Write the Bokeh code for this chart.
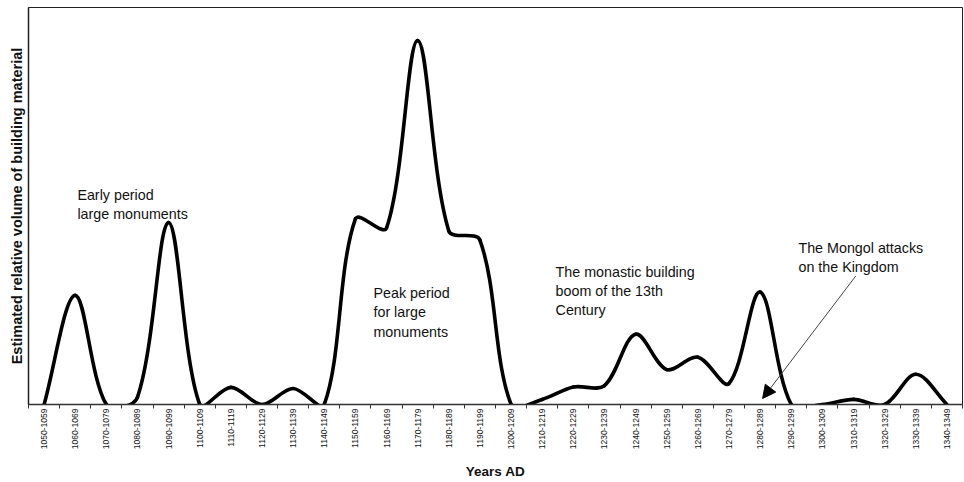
import math
from bokeh.plotting import figure
from bokeh.models import (Label, Arrow, NormalHead, FixedTicker,
                          CustomJSTickFormatter, Range1d, ColumnDataSource)
from bokeh.embed import file_html
from bokeh.resources import INLINE

# ---- data -------------------------------------------------------------
periods = ["1050-1059", "1060-1069", "1070-1079", "1080-1089", "1090-1099",
           "1100-1109", "1110-1119", "1120-1129", "1130-1139", "1140-1149",
           "1150-1159", "1160-1169", "1170-1179", "1180-1189", "1190-1199",
           "1200-1209", "1210-1219", "1220-1229", "1230-1239", "1240-1249",
           "1250-1259", "1260-1269", "1270-1279", "1280-1289", "1290-1299",
           "1300-1309", "1310-1319", "1320-1329", "1330-1339", "1340-1349"]

# estimated relative volume of building material (peak = 100)
volume = [0, 30, 0, 2, 50, 0, 4.7, 0, 4.4, 0,
          51, 48.5, 100, 47.7, 45.2, 0, 1.4, 4.8, 5.2, 19.3,
          9.6, 13, 5.8, 30.9, 0, 0, 1.4, 0, 8.3, 0]

FONT = "Liberation Sans"
W, H = 964, 482
BL, BR, BT = 28, 2, 7
YMAX = 109.1
FRAME_W, FRAME_H = W - BL - BR, 396   # approx. frame size for smoothing

# ---- smoothed line (Excel-style Bezier, chord-length scaled) ----------
n = len(volume)
xs = [i + 0.5 for i in range(n)]
sx, sy = FRAME_W / n, FRAME_H / YMAX


def dist(a, b):
    return math.hypot((xs[b] - xs[a]) * sx, (volume[b] - volume[a]) * sy)


seg = dict(x0=[], y0=[], x1=[], y1=[], cx0=[], cy0=[], cx1=[], cy1=[])
for i in range(n - 1):
    i0, i3 = max(i - 1, 0), min(i + 2, n - 1)
    d01, d12, d23 = dist(i0, i), dist(i, i + 1), dist(i + 1, i3)
    f1 = d12 / (d01 + d12) / 3 if d01 + d12 > 0 else 0
    f2 = d12 / (d12 + d23) / 3 if d12 + d23 > 0 else 0
    seg["x0"].append(xs[i]); seg["y0"].append(volume[i])
    seg["x1"].append(xs[i + 1]); seg["y1"].append(volume[i + 1])
    seg["cx0"].append(xs[i] + (xs[i + 1] - xs[i0]) * f1)
    seg["cy0"].append(volume[i] + (volume[i + 1] - volume[i0]) * f1)
    seg["cx1"].append(xs[i + 1] - (xs[i3] - xs[i]) * f2)
    seg["cy1"].append(volume[i + 1] - (volume[i3] - volume[i]) * f2)
src = ColumnDataSource(seg)

# ---- figure -----------------------------------------------------------
p = figure(width=W, height=H, output_backend="svg", toolbar_location=None,
           x_range=Range1d(0, n), y_range=Range1d(0, YMAX),
           min_border_left=BL, min_border_right=BR, min_border_top=BT,
           min_border_bottom=0)
p.grid.visible = False
p.background_fill_color = "white"
p.border_fill_color = "white"
p.outline_line_color = "#222222"
p.outline_line_width = 1

p.bezier(x0="x0", y0="y0", x1="x1", y1="y1", cx0="cx0", cy0="cy0",
         cx1="cx1", cy1="cy1", source=src, line_color="black",
         line_width=3.6, line_cap="round")

# x axis
xa = p.xaxis[0]
xa.ticker = FixedTicker(ticks=xs, minor_ticks=list(range(n + 1)))
xa.formatter = CustomJSTickFormatter(args=dict(labels=periods),
                                     code="return labels[Math.floor(tick)];")
xa.major_label_orientation = math.pi / 2
xa.major_label_text_font = FONT
xa.major_label_text_font_size = "8.5px"
xa.major_label_text_color = "#111111"
xa.major_label_standoff = 0
xa.major_tick_line_color = None
xa.major_tick_out = 4
xa.major_tick_in = 0
xa.minor_tick_line_color = "#333333"
xa.minor_tick_out = 4
xa.minor_tick_in = 0
xa.axis_line_color = "#333333"
xa.axis_line_width = 1.5
xa.axis_label = "Years AD"
xa.axis_label_text_font = FONT
xa.axis_label_text_font_style = "bold"
xa.axis_label_text_font_size = "13.5px"
xa.axis_label_text_color = "#111111"
xa.axis_label_standoff = 12

# y axis
ya = p.yaxis[0]
ya.ticker = FixedTicker(ticks=[])
ya.major_tick_out = 0
ya.major_tick_in = 0
ya.minor_tick_out = 0
ya.minor_tick_in = 0
ya.major_label_standoff = 0
ya.major_label_text_font_size = "0px"
ya.axis_line_color = "#222222"
ya.axis_line_width = 1.5
ya.axis_label = "Estimated relative volume of building material"
ya.axis_label_text_font = FONT
ya.axis_label_text_font_style = "bold"
ya.axis_label_text_font_size = "14.5px"
ya.axis_label_text_color = "#111111"
ya.axis_label_standoff = 4

# annotations
notes = [
    (1.57, 59.8, "Early period\nlarge monuments"),
    (11.08, 32.8, "Peak period\nfor large\nmonuments"),
    (16.93, 38.6, "The monastic building\nboom of the 13th\nCentury"),
    (24.73, 45.2, "The Mongol attacks\non the Kingdom"),
]
for x, y, t in notes:
    p.add_layout(Label(x=x, y=y, text=t, text_font=FONT,
                       text_font_size="14.3px", text_baseline="top",
                       text_align="left", text_line_height=1.2,
                       text_color="#111111"))

p.add_layout(Arrow(end=NormalHead(size=13, fill_color="black",
                                  line_color="black"),
                   x_start=26.57, y_start=35.3, x_end=23.58, y_end=1.65,
                   line_color="#444444", line_width=1))

open("out.html", "w").write(file_html(p, INLINE))
